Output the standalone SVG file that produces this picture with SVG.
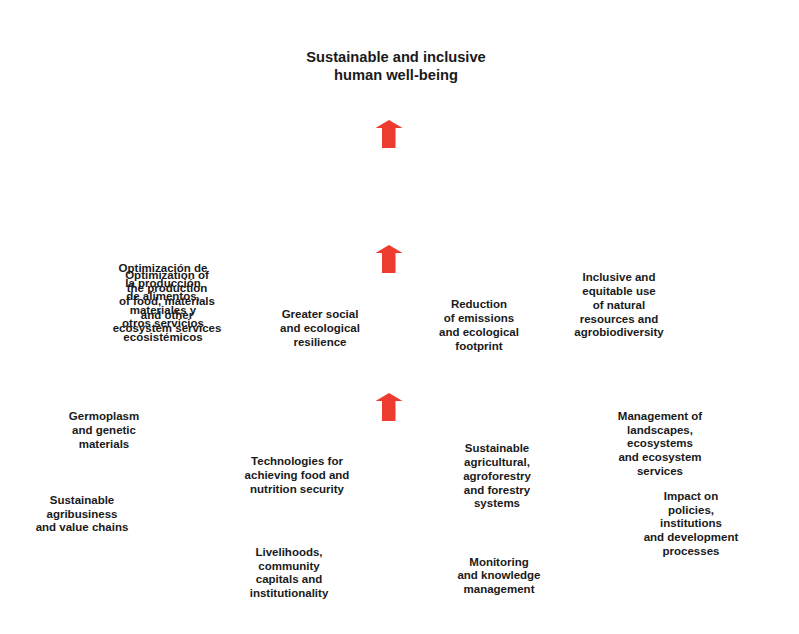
<svg xmlns="http://www.w3.org/2000/svg" width="799" height="634" viewBox="0 0 799 634">
<style>
text{font-family:"Liberation Sans",Arial,sans-serif;font-weight:bold;fill:#1a1a1a;text-anchor:middle}
.t{font-size:11.5px}
.h{font-size:14.7px}
.arr{fill:#ee3b30}
</style>
<defs>
<path id="arrow" d="M0,-14 L13.5,-6 L6.5,-6 L6.5,14 L-7,14 L-7,-6 L-13.5,-6 Z"/>
</defs>
<rect width="799" height="634" fill="#fff"/>
<g id="connectors">
<use href="#arrow" class="arr" x="389" y="134"/>
<use href="#arrow" class="arr" x="389" y="259"/>
<use href="#arrow" class="arr" x="389" y="407"/>
</g>
<g id="title"><text class="h" x="396" y="62">Sustainable and inclusive</text><text class="h" x="396" y="80">human well-being</text></g>
<g id="optimizacion"><text class="t" x="163" y="272">Optimización de</text><text class="t" x="163" y="287">la producción</text><text class="t" x="163" y="300">de alimentos,</text><text class="t" x="163" y="314">materiales y</text><text class="t" x="163" y="327">otros servicios</text><text class="t" x="163" y="341">ecosistémicos</text></g>
<g id="optimization"><text class="t" x="167" y="279">Optimization of</text><text class="t" x="167" y="292">the production</text><text class="t" x="167" y="305">of food, materials</text><text class="t" x="167" y="319">and other</text><text class="t" x="167" y="332">ecosystem services</text></g>
<g id="resilience"><text class="t" x="320" y="318">Greater social</text><text class="t" x="320" y="332">and ecological</text><text class="t" x="320" y="346">resilience</text></g>
<g id="emissions"><text class="t" x="479" y="308">Reduction</text><text class="t" x="479" y="322">of emissions</text><text class="t" x="479" y="336">and ecological</text><text class="t" x="479" y="350">footprint</text></g>
<g id="inclusive"><text class="t" x="619" y="281">Inclusive and</text><text class="t" x="619" y="295">equitable use</text><text class="t" x="619" y="309">of natural</text><text class="t" x="619" y="323">resources and</text><text class="t" x="619" y="336">agrobiodiversity</text></g>
<g id="germoplasm"><text class="t" x="104" y="420">Germoplasm</text><text class="t" x="104" y="434">and genetic</text><text class="t" x="104" y="448">materials</text></g>
<g id="agribusiness"><text class="t" x="82" y="504">Sustainable</text><text class="t" x="82" y="518">agribusiness</text><text class="t" x="82" y="531">and value chains</text></g>
<g id="technologies"><text class="t" x="297" y="465">Technologies for</text><text class="t" x="297" y="479">achieving food and</text><text class="t" x="297" y="493">nutrition security</text></g>
<g id="systems"><text class="t" x="497" y="452">Sustainable</text><text class="t" x="497" y="466">agricultural,</text><text class="t" x="497" y="480">agroforestry</text><text class="t" x="497" y="494">and forestry</text><text class="t" x="497" y="507">systems</text></g>
<g id="landscapes"><text class="t" x="660" y="420">Management of</text><text class="t" x="660" y="434">landscapes,</text><text class="t" x="660" y="447">ecosystems</text><text class="t" x="660" y="461">and ecosystem</text><text class="t" x="660" y="475">services</text></g>
<g id="impact"><text class="t" x="691" y="500">Impact on</text><text class="t" x="691" y="514">policies,</text><text class="t" x="691" y="527">institutions</text><text class="t" x="691" y="541">and development</text><text class="t" x="691" y="555">processes</text></g>
<g id="livelihoods"><text class="t" x="289" y="556">Livelihoods,</text><text class="t" x="289" y="570">community</text><text class="t" x="289" y="583">capitals and</text><text class="t" x="289" y="597">institutionality</text></g>
<g id="monitoring"><text class="t" x="499" y="566">Monitoring</text><text class="t" x="499" y="579">and knowledge</text><text class="t" x="499" y="593">management</text></g>
</svg>
